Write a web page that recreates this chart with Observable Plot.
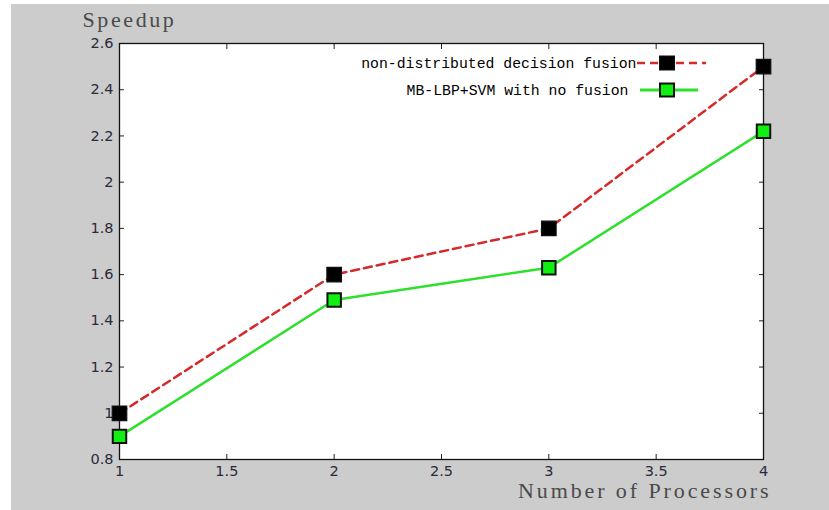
<!DOCTYPE html>
<html>
<head>
<meta charset="utf-8">
<script src="https://cdn.jsdelivr.net/npm/d3@7"></script>
<script src="https://cdn.jsdelivr.net/npm/@observablehq/plot@0.6"></script>
<style>
  html, body { margin: 0; padding: 0; background: #ffffff; }
  #chart { position: absolute; left: 11px; top: 4px; width: 818px; height: 506px; background: #cccccc; overflow: hidden; }
  #chart svg { display: block; }
</style>
</head>
<body>
<div id="chart"></div>
<script>
// ---- data ----
const processors = [1, 2, 3, 4];
const fusionSpeedup = [1.0, 1.6, 1.8, 2.5];
const noFusionSpeedup = [0.9, 1.49, 1.63, 2.22];
const seriesNames = ["non-distributed decision fusion", "MB-LBP+SVM with no fusion"];
const xTicks = [1, 1.5, 2, 2.5, 3, 3.5, 4];
const yTicks = [0.8, 1, 1.2, 1.4, 1.6, 1.8, 2, 2.2, 2.4, 2.6];
const xTitle = "Number of Processors";
const yTitle = "Speedup";

const fusion = processors.map((p, i) => ({x: p, y: fusionSpeedup[i]}));
const noFusion = processors.map((p, i) => ({x: p, y: noFusionSpeedup[i]}));

const redColor = "#d42a2a";
const greenColor = "#2ee02e";
const markerGreen = "#11ee11";
const monoFont = "'Liberation Mono', 'DejaVu Sans Mono', monospace";
const serifFont = "'Liberation Serif', 'DejaVu Serif', serif";
const fmt = d3.format("~g");

const chart = Plot.plot({
  width: 818,
  height: 506,
  marginLeft: 108,
  marginRight: 66,
  marginTop: 39,
  marginBottom: 51,
  style: {background: "transparent", fontFamily: "'DejaVu Sans', sans-serif", fontSize: "14.5px", color: "#2a2a3a"},
  x: {domain: [1, 4]},
  y: {domain: [0.8, 2.6]},
  marks: [
    Plot.frame({fill: "white", stroke: "none"}),
    // inward ticks on all four sides
    Plot.axisY(yTicks, {anchor: "left", tickSize: 5, dx: 5, text: null, label: null, stroke: "#222"}),
    Plot.axisY(yTicks, {anchor: "right", tickSize: 5, dx: -5, text: null, label: null, stroke: "#222"}),
    Plot.axisX(xTicks, {anchor: "bottom", tickSize: 5, dy: -5, text: null, label: null, stroke: "#222"}),
    Plot.axisX(xTicks, {anchor: "top", tickSize: 5, dy: 5, text: null, label: null, stroke: "#222"}),
    // tick labels
    Plot.axisY(yTicks, {anchor: "left", tickSize: 0, tickPadding: 6, tickFormat: fmt, label: null, fill: "#2a2a3a"}),
    Plot.axisX(xTicks, {anchor: "bottom", tickSize: 0, tickPadding: 6, tickFormat: fmt, label: null, fill: "#2a2a3a"}),
    Plot.frame({stroke: "#111", strokeWidth: 1.3}),
    // axis titles
    Plot.text([yTitle], {text: d => d, frameAnchor: "top-left", textAnchor: "start", lineAnchor: "bottom", dx: -37, dy: -17, fontFamily: serifFont, fontSize: 22, fill: "#4a4a4a"}),
    Plot.text([xTitle], {text: d => d, frameAnchor: "bottom-right", textAnchor: "end", lineAnchor: "bottom", dx: 8, dy: 38, fontFamily: serifFont, fontSize: 22, fill: "#4a4a4a"}),
    // series lines
    Plot.line(fusion, {x: "x", y: "y", stroke: redColor, strokeWidth: 2.5, strokeDasharray: "8,5"}),
    Plot.line(noFusion, {x: "x", y: "y", stroke: greenColor, strokeWidth: 2.5}),
    Plot.dot(fusion, {x: "x", y: "y", symbol: "square", r: 8.2, fill: "black", stroke: "#111", strokeWidth: 1.2}),
    Plot.dot(noFusion, {x: "x", y: "y", symbol: "square", r: 7.6, fill: markerGreen, stroke: "#111", strokeWidth: 2}),
    // legend text
    Plot.text([seriesNames[0]], {text: d => d, frameAnchor: "top-right", textAnchor: "end", dx: -127, dy: 14, fontFamily: monoFont, fontSize: 14.8, fill: "#000"}),
    Plot.text([seriesNames[1]], {text: d => d, frameAnchor: "top-right", textAnchor: "end", dx: -135, dy: 41, fontFamily: monoFont, fontSize: 14.8, fill: "#000"})
  ]
});

// widen the serif axis titles to the reference's monospaced spacing
const svg = d3.select(chart);
svg.selectAll("text").filter(function() { return this.textContent === yTitle; })
  .style("letter-spacing", "2.6px");
svg.selectAll("text").filter(function() { return this.textContent === xTitle; })
  .style("letter-spacing", "2.9px");

// legend line samples and markers (drawn on top of the plot svg)
const fx = 818 - 66, fy = 39;
const lg = svg.append("g");
lg.append("line").attr("x1", fx - 126).attr("x2", fx - 57).attr("y1", fy + 20).attr("y2", fy + 20)
  .attr("stroke", redColor).attr("stroke-width", 2.5).attr("stroke-dasharray", "8,5");
lg.append("line").attr("x1", fx - 123).attr("x2", fx - 65).attr("y1", fy + 47).attr("y2", fy + 47)
  .attr("stroke", greenColor).attr("stroke-width", 3);
lg.append("rect").attr("x", fx - 96 - 7.5).attr("y", fy + 20 - 7).attr("width", 15).attr("height", 14)
  .attr("fill", "black").attr("stroke", "#111");
lg.append("rect").attr("x", fx - 96 - 7).attr("y", fy + 47 - 6.5).attr("width", 14).attr("height", 13)
  .attr("fill", markerGreen).attr("stroke", "#111").attr("stroke-width", 2);

document.getElementById("chart").appendChild(chart);
</script>
</body>
</html>
